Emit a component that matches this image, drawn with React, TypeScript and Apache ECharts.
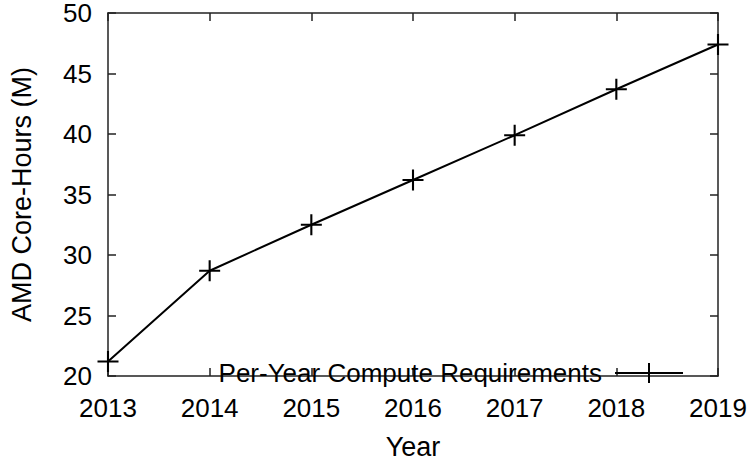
import React, { useEffect, useRef } from "react";
import * as echarts from "echarts";

const years = [2013, 2014, 2015, 2016, 2017, 2018, 2019];
const coreHours = [21.2, 28.7, 32.5, 36.2, 39.9, 43.7, 47.4];
const seriesName = "Per-Year Compute Requirements";
const xTitle = "Year";
const yTitle = "AMD Core-Hours (M)";

const FONT = "'Liberation Sans', Arial, Helvetica, sans-serif";
const PLUS = "path://M9,0h2v20h-2z M0,9h20v2h-20z";
const LEGEND_ICON = "path://M0,9h68v2h-68z M33,0h2v20h-2z";

export default function App() {
  const ref = useRef<HTMLDivElement>(null);
  useEffect(() => {
    if (!ref.current) return;
    document.body.style.margin = "0";
    document.documentElement.style.overflow = "hidden";
    const chart = echarts.init(ref.current, undefined, { renderer: "svg" });
    const axisLine = { show: true, lineStyle: { color: "#222", width: 1.5 } };
    const tick = { show: true, inside: true, length: 8, lineStyle: { color: "#222", width: 1.5 } };
    chart.setOption({
      animation: false,
      backgroundColor: "#fff",
      textStyle: { fontFamily: FONT },
      grid: { left: 101, top: 10, right: 32, bottom: 75, containLabel: false },
      legend: {
        show: true,
        right: 62,
        top: 355,
        align: "right",
        itemWidth: 68,
        itemHeight: 20,
        itemGap: 10,
        icon: LEGEND_ICON,
        textStyle: { fontFamily: FONT, fontSize: 26, color: "#000", padding: [0, 8, 0, 0] },
        data: [{ name: seriesName, icon: LEGEND_ICON, itemStyle: { color: "#000" } }],
      },
      xAxis: [
        {
          type: "value",
          min: 2013,
          max: 2019,
          interval: 1,
          position: "bottom",
          axisLine,
          axisTick: tick,
          splitLine: { show: false },
          axisLabel: { fontFamily: FONT, fontSize: 26, color: "#000", margin: 19, formatter: (v: number) => String(v) },
          name: xTitle,
          nameLocation: "middle",
          nameGap: 57,
          nameTextStyle: { fontFamily: FONT, fontSize: 27, color: "#000" },
        },
        {
          type: "value",
          min: 2013,
          max: 2019,
          interval: 1,
          position: "top",
          axisLine,
          axisTick: tick,
          splitLine: { show: false },
          axisLabel: { show: false },
        },
      ],
      yAxis: [
        {
          type: "value",
          min: 20,
          max: 50,
          interval: 5,
          position: "left",
          axisLine,
          axisTick: tick,
          splitLine: { show: false },
          axisLabel: { fontFamily: FONT, fontSize: 26, color: "#000", margin: 16 },
          name: yTitle,
          nameLocation: "middle",
          nameGap: 73,
          nameRotate: 90,
          nameTextStyle: { fontFamily: FONT, fontSize: 27, color: "#000" },
        },
        {
          type: "value",
          min: 20,
          max: 50,
          interval: 5,
          position: "right",
          axisLine,
          axisTick: tick,
          splitLine: { show: false },
          axisLabel: { show: false },
        },
      ],
      series: [
        {
          name: seriesName,
          type: "line",
          xAxisIndex: 0,
          yAxisIndex: 0,
          data: years.map((y, i) => [y, coreHours[i]]),
          symbol: PLUS,
          symbolSize: 21,
          showAllSymbol: true,
          clip: false,
          lineStyle: { color: "#000", width: 2 },
          itemStyle: { color: "#000" },
        },
      ],
    });
    return () => chart.dispose();
  }, []);
  return (
    <div
      ref={ref}
      style={{ position: "fixed", left: 0, top: 0, width: 750, height: 465, background: "#fff" }}
    />
  );
}
